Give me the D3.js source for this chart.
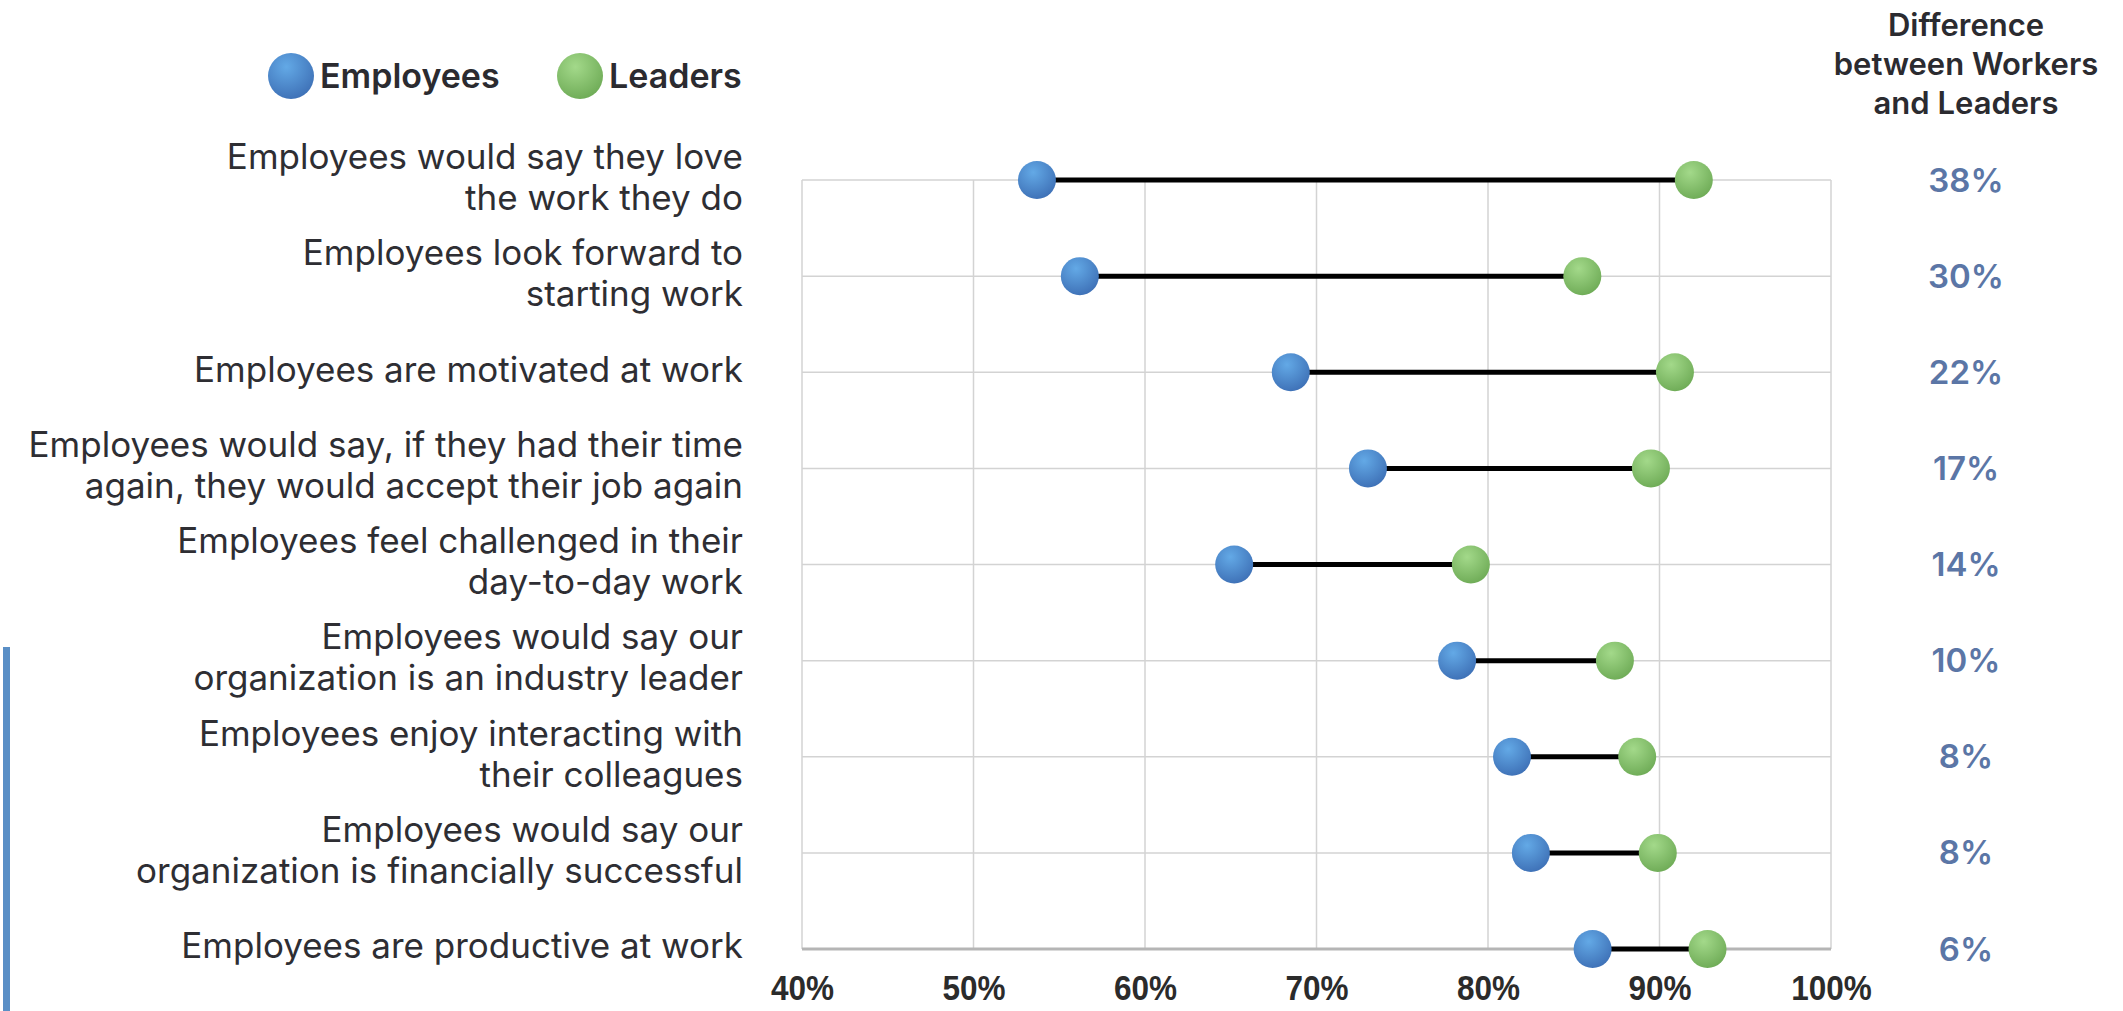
<!DOCTYPE html>
<html>
<head>
<meta charset="utf-8">
<script src="https://cdn.jsdelivr.net/npm/d3@7"></script>
<style>
  body { margin: 0; background: #fff; }
  svg { display: block; }
  text { font-family: Inter, "Noto Sans", sans-serif; }
</style>
</head>
<body>
<div id="chart"></div>
<script>
// Survey statements, one per row (each entry split into display lines)
var categories = [
    ["Employees would say they love", "the work they do"],
    ["Employees look forward to", "starting work"],
    ["Employees are motivated at work"],
    ["Employees would say, if they had their time", "again, they would accept their job again"],
    ["Employees feel challenged in their", "day-to-day work"],
    ["Employees would say our", "organization is an industry leader"],
    ["Employees enjoy interacting with", "their colleagues"],
    ["Employees would say our", "organization is financially successful"],
    ["Employees are productive at work"]
];

// Percent agreeing
var employees = [53.7, 56.2, 68.5, 73.0, 65.2, 78.2, 81.4, 82.5, 86.1];
var leaders   = [92.0, 85.5, 90.9, 89.5, 79.0, 87.4, 88.7, 89.9, 92.8];
var differences = ["38%", "30%", "22%", "17%", "14%", "10%", "8%", "8%", "6%"];

var xTicks = [40, 50, 60, 70, 80, 90, 100];
var seriesNames = ["Employees", "Leaders"];
var headerLines = ["Difference", "between Workers", "and Leaders"];

var width = 2123;
var height = 1011;

var svg = d3.select("#chart")
    .append("svg")
    .attr("width", width)
    .attr("height", height);

// Gradients for the glossy dots
var defs = svg.append("defs");
function addGradient(id, light, dark) {
    var g = defs.append("radialGradient")
        .attr("id", id)
        .attr("cx", "40%").attr("cy", "30%").attr("r", "75%");
    g.append("stop").attr("offset", "0%").attr("stop-color", light);
    g.append("stop").attr("offset", "100%").attr("stop-color", dark);
}
addGradient("gradBlue", "#63a9e6", "#3d6fb5");
addGradient("gradGreen", "#a3d98a", "#6daa55");
var fills = ["url(#gradBlue)", "url(#gradGreen)"];

// Scales
var xScale = d3.scaleLinear()
    .domain([40, 100])
    .range([802, 1831]);

var yScale = d3.scalePoint()
    .domain(d3.range(categories.length))
    .range([180, 949]);

var plotTop = yScale(0);
var plotBottom = yScale(categories.length - 1);

// Vertical gridlines
svg.selectAll(".vgrid")
    .data(xTicks)
    .enter().append("line")
    .attr("x1", function (d) { return xScale(d); })
    .attr("x2", function (d) { return xScale(d); })
    .attr("y1", plotTop)
    .attr("y2", plotBottom)
    .attr("stroke", "#d3d3d3")
    .attr("stroke-width", 1.5);

// Horizontal gridlines (one per row)
svg.selectAll(".hgrid")
    .data(d3.range(categories.length))
    .enter().append("line")
    .attr("x1", xScale(40))
    .attr("x2", xScale(100))
    .attr("y1", function (d) { return yScale(d); })
    .attr("y2", function (d) { return yScale(d); })
    .attr("stroke", function (d) { return d === categories.length - 1 ? "#b5b5b5" : "#d3d3d3"; })
    .attr("stroke-width", function (d) { return d === categories.length - 1 ? 3 : 1.5; });

// X axis tick labels
var xAxis = d3.axisBottom(xScale)
    .tickValues(xTicks)
    .tickSize(0)
    .tickPadding(0)
    .tickFormat(function (d) { return d + "%"; });

var axisG = svg.append("g")
    .attr("transform", "translate(0," + (plotBottom + 26) + ")")
    .call(xAxis);
axisG.select(".domain").remove();
axisG.selectAll("text")
    .attr("dy", "0.71em")
    .attr("transform", "scale(0.9,1)")
    .style("font-family", "'Liberation Sans', Arial, sans-serif")
    .style("font-weight", "bold")
    .style("font-size", "35px")
    .attr("fill", "#2b2b2b");

// Category labels, right aligned
var labels = svg.selectAll(".cat")
    .data(categories)
    .enter().append("text")
    .attr("text-anchor", "end")
    .attr("font-size", 35)
    .attr("font-weight", 400)
    .attr("fill", "#2e2e33")
    .attr("transform", function (d, i) { return "translate(743," + (yScale(i) - 3) + ")"; });

labels.selectAll("tspan")
    .data(function (d) { return d; })
    .enter().append("tspan")
    .attr("x", 0)
    .attr("y", function (d, j, nodes) {
        var n = nodes.length;
        return (j - (n - 1) / 2) * 41;
    })
    .attr("dy", "0.35em")
    .text(function (d) { return d; });

// Connector lines
svg.selectAll(".link")
    .data(employees)
    .enter().append("line")
    .attr("x1", function (d) { return xScale(d); })
    .attr("x2", function (d, i) { return xScale(leaders[i]); })
    .attr("y1", function (d, i) { return yScale(i); })
    .attr("y2", function (d, i) { return yScale(i); })
    .attr("stroke", "#000")
    .attr("stroke-width", 5);

// Dots
[employees, leaders].forEach(function (values, s) {
    svg.selectAll(".dot" + s)
        .data(values)
        .enter().append("circle")
        .attr("cx", function (d) { return xScale(d); })
        .attr("cy", function (d, i) { return yScale(i); })
        .attr("r", 19)
        .attr("fill", fills[s]);
});

// Difference column
svg.selectAll(".diff")
    .data(differences)
    .enter().append("text")
    .attr("x", 1966)
    .attr("y", function (d, i) { return yScale(i); })
    .attr("dy", "0.35em")
    .attr("text-anchor", "middle")
    .attr("font-size", 33)
    .attr("font-weight", 600)
    .attr("fill", "#5b76a6")
    .text(function (d) { return d; });

svg.append("text")
    .attr("text-anchor", "middle")
    .attr("font-size", 31)
    .attr("font-weight", 600)
    .attr("fill", "#2b2b30")
    .selectAll("tspan")
    .data(headerLines)
    .enter().append("tspan")
    .attr("x", 1966)
    .attr("y", function (d, i) { return 36 + i * 39; })
    .text(function (d) { return d; });

// Legend
var legend = svg.append("g");
var legendX = [291, 580];
seriesNames.forEach(function (name, s) {
    legend.append("circle")
        .attr("cx", legendX[s])
        .attr("cy", 76)
        .attr("r", 23)
        .attr("fill", fills[s]);
    legend.append("text")
        .attr("x", legendX[s] + 29)
        .attr("y", 76)
        .attr("dy", "0.35em")
        .attr("font-size", 34)
        .attr("font-weight", 600)
        .attr("fill", "#2b2b30")
        .text(name);
});

// Thin blue accent bar on the left edge
svg.append("rect")
    .attr("x", 3)
    .attr("y", 647)
    .attr("width", 7)
    .attr("height", height - 647)
    .attr("fill", "#5a8fc6");
</script>
</body>
</html>
